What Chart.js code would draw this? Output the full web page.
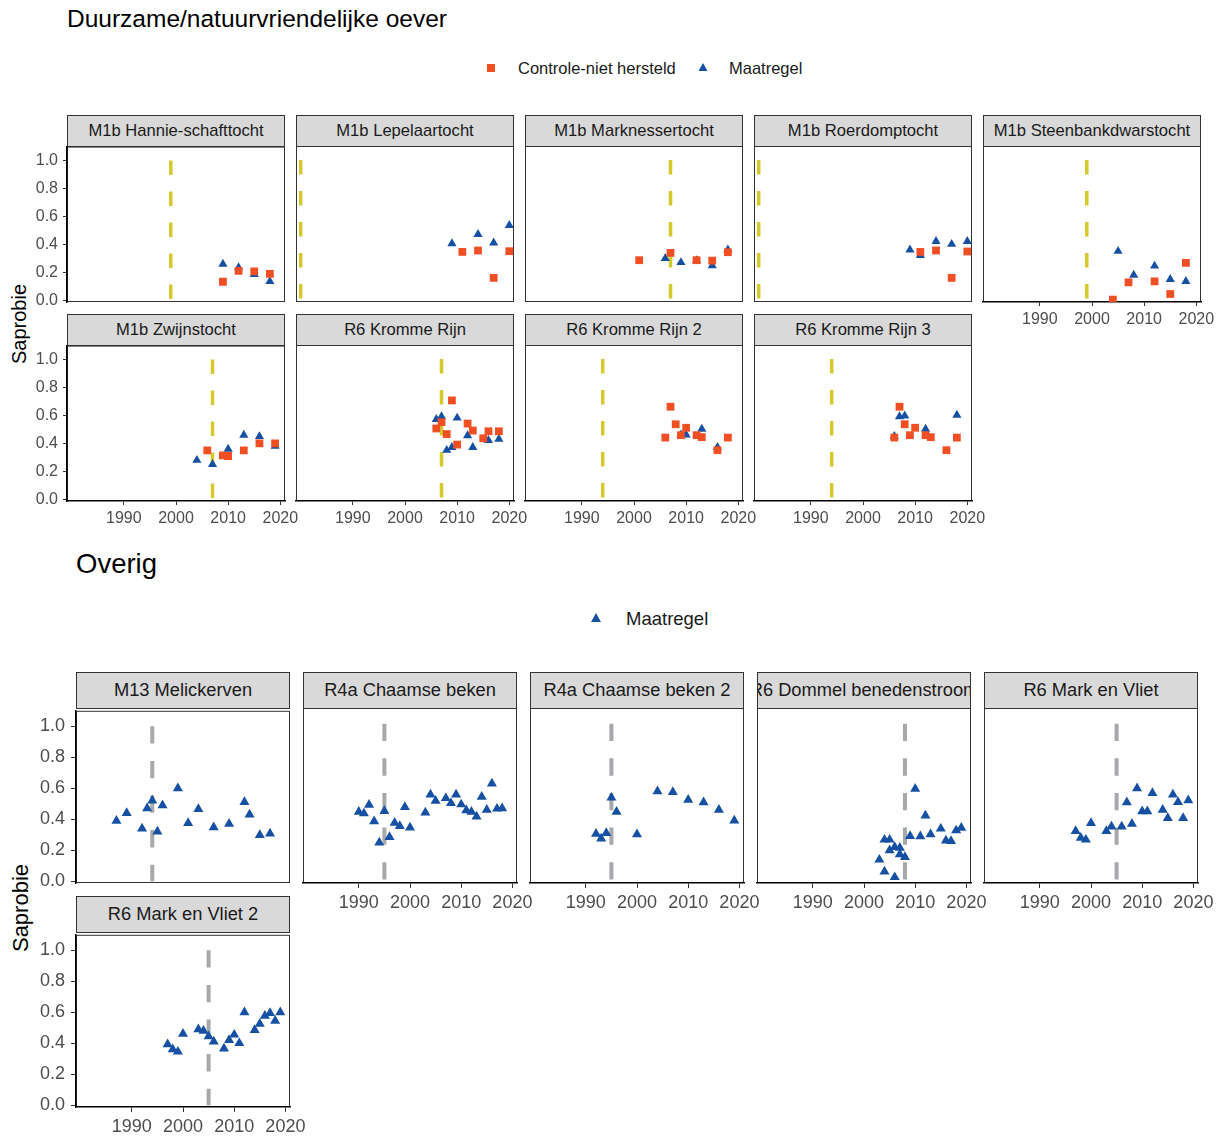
<!DOCTYPE html>
<html>
<head>
<meta charset="utf-8">
<script src="https://cdn.jsdelivr.net/npm/chart.js@4.4.1/dist/chart.umd.min.js"></script>
<style>
html, body { margin: 0; padding: 0; background: #fff; overflow: hidden; }
body { width: 1221px; height: 1137px; position: relative; font-family: "Liberation Sans", Arial, sans-serif; }
.strip { position: absolute; box-sizing: border-box; background: #d9d9d9; border: 1px solid #333;
         display: flex; justify-content: center; align-items: center; overflow: hidden;
         white-space: nowrap; color: #1a1a1a; line-height: 1; }
.strip span { flex: none; }
canvas { position: absolute; }
.tri { position: absolute; clip-path: polygon(50% 0, 100% 100%, 0 100%); }
.sq { position: absolute; }
.txt { position: absolute; white-space: nowrap; line-height: 1; color: #000; }
.ytitle { position: absolute; white-space: nowrap; line-height: 1; color: #000;
          transform: translate(-50%, -50%) rotate(-90deg); }
</style>
</head>
<body>
<script>
// ---- axes ----
const xTickYears = [1990, 2000, 2010, 2020];
const yTickValues = [0, 0.2, 0.4, 0.6, 0.8, 1.0];

// ---- Duurzame/natuurvriendelijke oever: [jaar, saprobie] ----
const oeverNamen = ['M1b Hannie-schafttocht', 'M1b Lepelaartocht', 'M1b Marknessertocht',
  'M1b Roerdomptocht', 'M1b Steenbankdwarstocht', 'M1b Zwijnstocht',
  'R6 Kromme Rijn', 'R6 Kromme Rijn 2', 'R6 Kromme Rijn 3'];
const oeverStartJaar = [1999, 1980, 2007, 1980, 1999, 2007, 2007, 1994, 1994];

const hannieMaatregel = [[2009, 0.26], [2012, 0.235], [2015, 0.185], [2018, 0.135]];
const hannieControle = [[2009, 0.133], [2012, 0.21], [2015, 0.207], [2018, 0.19]];
const lepelaarMaatregel = [[2009, 0.405], [2014, 0.47], [2017, 0.41], [2020, 0.535]];
const lepelaarControle = [[2011, 0.345], [2014, 0.355], [2017, 0.16], [2020, 0.35]];
const marknesserMaatregel = [[2006, 0.30], [2009, 0.27], [2012, 0.283], [2015, 0.248], [2018, 0.36]];
const marknesserControle = [[2001, 0.286], [2007, 0.338], [2012, 0.286], [2015, 0.283], [2018, 0.343]];
const roerdompMaatregel = [[2009, 0.36], [2011, 0.32], [2014, 0.42], [2017, 0.40], [2020, 0.42]];
const roerdompControle = [[2011, 0.345], [2014, 0.355], [2017, 0.16], [2020, 0.348]];
const steenbankMaatregel = [[2005, 0.35], [2008, 0.18], [2012, 0.245], [2015, 0.15], [2018, 0.135]];
const steenbankControle = [[2004, 0.005], [2007, 0.128], [2012, 0.135], [2015, 0.045], [2018, 0.267]];
const zwijnMaatregel = [[2004, 0.28], [2007, 0.25], [2010, 0.36], [2013, 0.46], [2016, 0.45], [2019, 0.38]];
const zwijnControle = [[2006, 0.35], [2009, 0.315], [2010, 0.31], [2013, 0.35], [2016, 0.40], [2019, 0.40]];
const krommeRijnMaatregel = [[2006, 0.57], [2007, 0.59], [2008, 0.35], [2009, 0.37], [2010, 0.58],
  [2012, 0.455], [2013, 0.37], [2016, 0.42], [2018, 0.43]];
const krommeRijnControle = [[2006, 0.505], [2007, 0.55], [2008, 0.465], [2009, 0.705], [2010, 0.39],
  [2012, 0.54], [2013, 0.49], [2015, 0.435], [2016, 0.485], [2018, 0.485]];
const krommeRijn2Maatregel = [[2009, 0.46], [2010, 0.46], [2013, 0.50], [2016, 0.37]];
const krommeRijn2Controle = [[2006, 0.44], [2007, 0.66], [2008, 0.535], [2009, 0.457], [2010, 0.51],
  [2012, 0.457], [2013, 0.443], [2016, 0.35], [2018, 0.44]];
const krommeRijn3Maatregel = [[2006, 0.45], [2007, 0.59], [2008, 0.595], [2012, 0.50], [2018, 0.60]];
const krommeRijn3Controle = [[2006, 0.44], [2007, 0.66], [2008, 0.535], [2009, 0.457], [2010, 0.51],
  [2012, 0.457], [2013, 0.443], [2016, 0.35], [2018, 0.44]];

const oeverMaatregel = [hannieMaatregel, lepelaarMaatregel, marknesserMaatregel, roerdompMaatregel,
  steenbankMaatregel, zwijnMaatregel, krommeRijnMaatregel, krommeRijn2Maatregel, krommeRijn3Maatregel];
const oeverControle = [hannieControle, lepelaarControle, marknesserControle, roerdompControle,
  steenbankControle, zwijnControle, krommeRijnControle, krommeRijn2Controle, krommeRijn3Controle];

// ---- Overig: [jaar, saprobie] ----
const overigNamen = ['M13 Melickerven', 'R4a Chaamse beken', 'R4a Chaamse beken 2',
  'R6 Dommel benedenstroom', 'R6 Mark en Vliet', 'R6 Mark en Vliet 2'];
const overigStartJaar = [1994, 1995, 1995, 2008, 2005, 2005];

const melickervenMaatregel = [[1987, 0.39], [1989, 0.44], [1992, 0.34], [1993, 0.47], [1994, 0.52],
  [1995, 0.32], [1996, 0.49], [1999, 0.60], [2001, 0.375], [2003, 0.465], [2006, 0.348],
  [2009, 0.37], [2012, 0.51], [2013, 0.43], [2015, 0.297], [2017, 0.307]];
const chaamseMaatregel = [[1990, 0.44], [1991, 0.43], [1992, 0.485], [1993, 0.38], [1994, 0.245],
  [1995, 0.445], [1996, 0.28], [1997, 0.37], [1998, 0.35], [1999, 0.47], [2000, 0.34],
  [2003, 0.435], [2004, 0.55], [2005, 0.51], [2007, 0.527], [2008, 0.495], [2009, 0.55],
  [2010, 0.487], [2011, 0.45], [2012, 0.44], [2013, 0.41], [2014, 0.535], [2015, 0.453],
  [2016, 0.62], [2017, 0.46], [2018, 0.462]];
const chaamse2Maatregel = [[1992, 0.30], [1993, 0.27], [1994, 0.305], [1995, 0.53], [1996, 0.44],
  [2000, 0.297], [2004, 0.57], [2007, 0.566], [2010, 0.517], [2013, 0.50], [2016, 0.453], [2019, 0.385]];
const dommelMaatregel = [[2003, 0.136], [2004, 0.061], [2004, 0.263], [2005, 0.263], [2005, 0.195],
  [2006, 0.025], [2006, 0.216], [2007, 0.212], [2007, 0.17], [2008, 0.153], [2009, 0.286],
  [2010, 0.587], [2011, 0.284], [2012, 0.417], [2013, 0.297], [2015, 0.333], [2016, 0.258],
  [2017, 0.254], [2018, 0.322], [2019, 0.339]];
const markVlietMaatregel = [[1997, 0.318], [1998, 0.275], [1999, 0.263], [2000, 0.369], [2003, 0.318],
  [2004, 0.347], [2006, 0.347], [2007, 0.50], [2008, 0.364], [2009, 0.59], [2010, 0.443],
  [2011, 0.443], [2012, 0.56], [2014, 0.453], [2015, 0.40], [2016, 0.55], [2017, 0.502],
  [2018, 0.40], [2019, 0.513]];
const markVliet2Maatregel = [[1997, 0.393], [1998, 0.36], [1999, 0.345], [2000, 0.46], [2003, 0.49],
  [2004, 0.48], [2005, 0.445], [2006, 0.41], [2008, 0.365], [2009, 0.42], [2010, 0.455],
  [2011, 0.40], [2012, 0.60], [2014, 0.485], [2015, 0.525], [2016, 0.577], [2017, 0.594],
  [2018, 0.545], [2019, 0.60]];

const overigMaatregel = [melickervenMaatregel, chaamseMaatregel, chaamse2Maatregel,
  dommelMaatregel, markVlietMaatregel, markVliet2Maatregel];

// ---- styling ----
const FONT = '"Liberation Sans", Arial, sans-serif';
const RED = '#F04E23';
const BLUE = '#1650A3';

const oeverLayout = {
  cols: [67, 296, 525, 754, 983], stripTops: [115, 314], stripH: 31,
  panelW: 218, panelH: 156, L: 62, R: 22, B: 32, T: 14,
  tickFont: 16, stripFont: 16.6, tickLen: 4, yPad: 5, xPad: 4,
  dash: [14.5, 16.5], lineW: 3.5, lineColor: '#D5C92E', sq: 5.5, tri: 5.3
};
const overigLayout = {
  cols: [76, 303, 530, 757, 984], stripTops: [672, 896], stripH: 36,
  panelW: 214, panelH: 175, L: 68, R: 22, B: 36, T: 14,
  tickFont: 18, stripFont: 18.3, tickLen: 5, yPad: 6, xPad: 4,
  dash: [17.3, 17.3], lineW: 4, lineColor: '#A6A8AB', sq: 6, tri: 5.8
};

// panel border drawn underneath the axis lines
const panelFrame = {
  id: 'panelFrame',
  beforeDraw(chart) {
    const a = chart.chartArea, ctx = chart.ctx;
    ctx.save();
    ctx.strokeStyle = '#333';
    ctx.lineWidth = 1;
    ctx.strokeRect(a.left + 0.5, a.top + 0.5, a.right - a.left - 1, a.bottom - a.top - 1);
    ctx.restore();
  }
};

const toPoints = arr => arr.map(p => ({ x: p[0], y: p[1] }));

function addDiv(cls, css, text) {
  const d = document.createElement('div');
  d.className = cls;
  Object.assign(d.style, css);
  if (text !== undefined) d.textContent = text;
  document.body.appendChild(d);
  return d;
}

function makePanel(lay, count, i, name, startYear, maatregel, controle) {
  const row = Math.floor(i / 5), col = i % 5;
  const px = lay.cols[col];
  const st = lay.stripTops[row];
  const py = st + lay.stripH;
  const showY = col === 0;
  const showX = i + 5 >= count;

  const strip = addDiv('strip', {
    left: px + 'px', top: st + 'px', width: lay.panelW + 'px',
    height: (lay.stripH + 1) + 'px', fontSize: lay.stripFont + 'px'
  });
  const span = document.createElement('span');
  span.textContent = name;
  strip.appendChild(span);

  const c = document.createElement('canvas');
  c.width = lay.L + lay.panelW + lay.R;
  c.height = lay.T + lay.panelH + lay.B;
  c.style.left = (px - lay.L) + 'px';
  c.style.top = (py - lay.T) + 'px';
  document.body.appendChild(c);

  const datasets = [{
    label: 'start',
    data: [{ x: startYear, y: 1 }, { x: startYear, y: 0 }],
    showLine: true, borderColor: lay.lineColor, borderWidth: lay.lineW,
    borderDash: lay.dash, borderCapStyle: 'butt', pointRadius: 0, order: 3
  }, {
    label: 'Maatregel',
    data: toPoints(maatregel),
    pointStyle: 'triangle', pointRadius: lay.tri, backgroundColor: BLUE,
    borderWidth: 0, order: 2
  }];
  if (controle) {
    datasets.push({
      label: 'Controle-niet hersteld',
      data: toPoints(controle),
      pointStyle: 'rect', pointRadius: lay.sq, backgroundColor: RED,
      borderWidth: 0, order: 1
    });
  }

  new Chart(c, {
    type: 'scatter',
    data: { datasets },
    plugins: [panelFrame],
    options: {
      responsive: false, animation: false, events: [],
      devicePixelRatio: 1,
      layout: { padding: { left: 0, top: lay.T, right: lay.R, bottom: 0 } },
      plugins: { legend: { display: false }, tooltip: { enabled: false } },
      scales: {
        x: {
          type: 'linear', min: 1979.1, max: 2020.9,
          afterBuildTicks: s => { s.ticks = xTickYears.map(v => ({ value: v })); },
          afterFit: s => { s.height = lay.B; },
          grid: { display: showX, drawOnChartArea: false, drawTicks: true,
                  tickLength: lay.tickLen, tickColor: '#333', tickWidth: 1 },
          border: { display: showX, color: '#000', width: 1.5 },
          ticks: { display: showX, color: '#4d4d4d', padding: lay.xPad, maxRotation: 0,
                   autoSkip: false, font: { family: FONT, size: lay.tickFont },
                   callback: v => String(v) }
        },
        y: {
          type: 'linear', min: -0.012, max: 1.1,
          afterBuildTicks: s => { s.ticks = yTickValues.map(v => ({ value: v })); },
          afterFit: s => { s.width = lay.L; },
          grid: { display: showY, drawOnChartArea: false, drawTicks: true,
                  tickLength: lay.tickLen, tickColor: '#333', tickWidth: 1 },
          border: { display: showY, color: '#000', width: 1.5 },
          ticks: { display: showY, color: '#4d4d4d', padding: lay.yPad, autoSkip: false,
                   font: { family: FONT, size: lay.tickFont },
                   callback: v => v.toFixed(1) }
        }
      }
    }
  });
}

// ---- titles, legends, axis titles ----
addDiv('txt', { left: '67px', top: '6.5px', fontSize: '24.5px' }, 'Duurzame/natuurvriendelijke oever');
addDiv('sq', { left: '487px', top: '64px', width: '8px', height: '8px', background: RED });
addDiv('txt', { left: '518px', top: '60px', fontSize: '16.5px', color: '#1a1a1a' }, 'Controle-niet hersteld');
addDiv('tri', { left: '698.5px', top: '63px', width: '9px', height: '8px', background: BLUE });
addDiv('txt', { left: '729px', top: '60px', fontSize: '16.5px', color: '#1a1a1a' }, 'Maatregel');
addDiv('ytitle', { left: '18.5px', top: '324px', fontSize: '20px' }, 'Saprobie');

addDiv('txt', { left: '76px', top: '550px', fontSize: '27.5px' }, 'Overig');
addDiv('tri', { left: '591px', top: '613px', width: '10px', height: '9px', background: BLUE });
addDiv('txt', { left: '626px', top: '610px', fontSize: '18.5px', color: '#1a1a1a' }, 'Maatregel');
addDiv('ytitle', { left: '21px', top: '908px', fontSize: '22px' }, 'Saprobie');

// ---- panels ----
oeverNamen.forEach((name, i) =>
  makePanel(oeverLayout, oeverNamen.length, i, name, oeverStartJaar[i], oeverMaatregel[i], oeverControle[i]));
overigNamen.forEach((name, i) =>
  makePanel(overigLayout, overigNamen.length, i, name, overigStartJaar[i], overigMaatregel[i], null));
</script>
</body>
</html>
